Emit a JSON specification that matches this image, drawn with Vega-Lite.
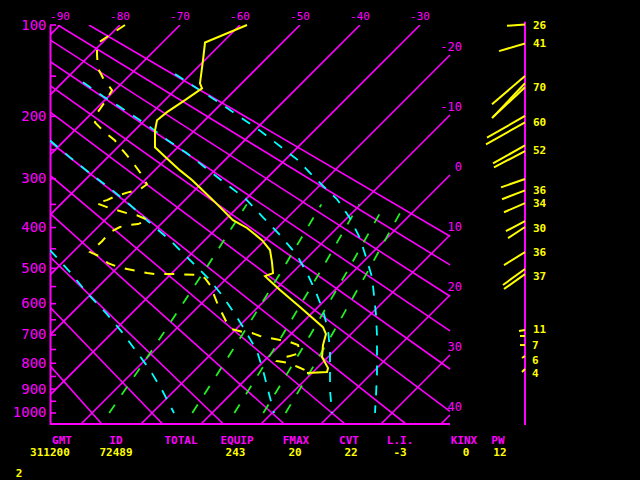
{
  "$schema": "https://vega.github.io/schema/vega-lite/v6.json",
  "width": 590,
  "height": 399,
  "autosize": "none",
  "padding": {"left": 50, "top": 25, "right": 0, "bottom": 56},
  "background": "#000000",
  "config": {
    "view": {"stroke": null},
    "text": {"font": "DejaVu Sans Mono"}
  },
  "datasets": {
    "grid": [
      {"id": "t-90", "i": 0, "x": -90, "p": 1048.7}, {"id": "t-90", "i": 1, "x": -23.5, "p": 100},
      {"id": "t-80", "i": 0, "x": -80, "p": 1048.7}, {"id": "t-80", "i": 1, "x": -13.5, "p": 100},
      {"id": "t-70", "i": 0, "x": -70, "p": 1048.7}, {"id": "t-70", "i": 1, "x": -3.5, "p": 100},
      {"id": "t-60", "i": 0, "x": -60, "p": 1048.7}, {"id": "t-60", "i": 1, "x": 6.5, "p": 100},
      {"id": "t-50", "i": 0, "x": -50, "p": 1048.7}, {"id": "t-50", "i": 1, "x": 16.5, "p": 100},
      {"id": "t-40", "i": 0, "x": -40, "p": 1048.7}, {"id": "t-40", "i": 1, "x": 26.5, "p": 100},
      {"id": "t-30", "i": 0, "x": -30, "p": 1048.7}, {"id": "t-30", "i": 1, "x": 36.5, "p": 100},
      {"id": "t-20", "i": 0, "x": -20, "p": 1048.7}, {"id": "t-20", "i": 1, "x": 41.5, "p": 127.6},
      {"id": "t-10", "i": 0, "x": -10, "p": 1048.7}, {"id": "t-10", "i": 1, "x": 41.5, "p": 198.3},
      {"id": "t0", "i": 0, "x": 0, "p": 1048.7}, {"id": "t0", "i": 1, "x": 41.5, "p": 293.3},
      {"id": "t10", "i": 0, "x": 10, "p": 1048.7}, {"id": "t10", "i": 1, "x": 41.5, "p": 417.1},
      {"id": "t20", "i": 0, "x": 20, "p": 1048.7}, {"id": "t20", "i": 1, "x": 41.5, "p": 574.3},
      {"id": "t30", "i": 0, "x": 30, "p": 1048.7}, {"id": "t30", "i": 1, "x": 41.5, "p": 770.0},
      {"id": "t40", "i": 0, "x": 40, "p": 1048.7}, {"id": "t40", "i": 1, "x": 41.5, "p": 1008.7},
      {"id": "th-20", "i": 0, "x": -16.53, "p": 1048.7}, {"id": "th-20", "i": 1, "x": -75.62, "p": 100},
      {"id": "th-10", "i": 0, "x": -6.40, "p": 1048.7}, {"id": "th-10", "i": 1, "x": -70.44, "p": 100},
      {"id": "th0", "i": 0, "x": 3.74, "p": 1048.7}, {"id": "th0", "i": 1, "x": -65.26, "p": 100},
      {"id": "th10", "i": 0, "x": 13.88, "p": 1048.7}, {"id": "th10", "i": 1, "x": -60.09, "p": 100},
      {"id": "th20", "i": 0, "x": 24.01, "p": 1048.7}, {"id": "th20", "i": 1, "x": -54.91, "p": 100},
      {"id": "th30", "i": 0, "x": 34.15, "p": 1048.7}, {"id": "th30", "i": 1, "x": -49.74, "p": 100},
      {"id": "th40", "i": 0, "x": 41.5, "p": 993.4}, {"id": "th40", "i": 1, "x": -44.56, "p": 100},
      {"id": "th50", "i": 0, "x": 41.5, "p": 821.5}, {"id": "th50", "i": 1, "x": -39.38, "p": 100},
      {"id": "th60", "i": 0, "x": 41.5, "p": 686.1}, {"id": "th60", "i": 1, "x": -34.21, "p": 100},
      {"id": "th70", "i": 0, "x": 41.5, "p": 578.0}, {"id": "th70", "i": 1, "x": -29.03, "p": 100},
      {"id": "th80", "i": 0, "x": 41.5, "p": 490.9}, {"id": "th80", "i": 1, "x": -23.86, "p": 100},
      {"id": "th90", "i": 0, "x": 41.5, "p": 420.0}, {"id": "th90", "i": 1, "x": -18.68, "p": 100}
    ],
    "ticks": [
      {"x": -25.1667, "x2": -24.1667, "p": 100}, {"x": -25.1667, "x2": -24.1667, "p": 150},
      {"x": -25.1667, "x2": -24.1667, "p": 200}, {"x": -25.1667, "x2": -24.1667, "p": 250},
      {"x": -25.1667, "x2": -24.1667, "p": 300}, {"x": -25.1667, "x2": -24.1667, "p": 350},
      {"x": -25.1667, "x2": -24.1667, "p": 400}, {"x": -25.1667, "x2": -24.1667, "p": 450},
      {"x": -25.1667, "x2": -24.1667, "p": 500}, {"x": -25.1667, "x2": -24.1667, "p": 550},
      {"x": -25.1667, "x2": -24.1667, "p": 600}, {"x": -25.1667, "x2": -24.1667, "p": 650},
      {"x": -25.1667, "x2": -24.1667, "p": 700}, {"x": -25.1667, "x2": -24.1667, "p": 750},
      {"x": -25.1667, "x2": -24.1667, "p": 800}, {"x": -25.1667, "x2": -24.1667, "p": 850},
      {"x": -25.1667, "x2": -24.1667, "p": 900}, {"x": -25.1667, "x2": -24.1667, "p": 950},
      {"x": -25.1667, "x2": -24.1667, "p": 1000}
    ],
    "base": [{"x": -25.1667, "x2": 41.5, "p": 1048.7}],
    "staff": [{"x": 54, "p": 97.3, "p2": 1053}],
    "mixing": [
      {"id": "w1", "i": 0, "x": -15.30, "p": 1000}, {"id": "w1", "i": 1, "x": -11.13, "p": 850},
      {"id": "w1", "i": 2, "x": -6.47, "p": 700}, {"id": "w1", "i": 3, "x": 0.84, "p": 500},
      {"id": "w1", "i": 4, "x": 7.62, "p": 350},
      {"id": "w3", "i": 0, "x": -1.45, "p": 1000}, {"id": "w3", "i": 1, "x": 2.47, "p": 850},
      {"id": "w3", "i": 2, "x": 6.86, "p": 700}, {"id": "w3", "i": 3, "x": 13.70, "p": 500},
      {"id": "w3", "i": 4, "x": 20.06, "p": 350},
      {"id": "w5", "i": 0, "x": 5.56, "p": 1000}, {"id": "w5", "i": 1, "x": 9.35, "p": 850},
      {"id": "w5", "i": 2, "x": 13.59, "p": 700}, {"id": "w5", "i": 3, "x": 20.19, "p": 500},
      {"id": "w5", "i": 4, "x": 26.33, "p": 350},
      {"id": "w7", "i": 0, "x": 10.38, "p": 1000}, {"id": "w7", "i": 1, "x": 14.09, "p": 850},
      {"id": "w7", "i": 2, "x": 18.22, "p": 700}, {"id": "w7", "i": 3, "x": 24.65, "p": 500},
      {"id": "w7", "i": 4, "x": 30.65, "p": 350},
      {"id": "w9", "i": 0, "x": 14.10, "p": 1000}, {"id": "w9", "i": 1, "x": 17.74, "p": 850},
      {"id": "w9", "i": 2, "x": 21.79, "p": 700}, {"id": "w9", "i": 3, "x": 28.08, "p": 500},
      {"id": "w9", "i": 4, "x": 33.97, "p": 350}
    ],
    "moist": [
      {"id": "c1", "i": 0, "x": -4.33, "p": 147.7}, {"id": "c1", "i": 1, "x": 3.17, "p": 182.6},
      {"id": "c1", "i": 2, "x": 9.83, "p": 220.5}, {"id": "c1", "i": 3, "x": 16.0, "p": 266.0},
      {"id": "c1", "i": 4, "x": 19.33, "p": 302.5}, {"id": "c1", "i": 5, "x": 22.67, "p": 339.5},
      {"id": "c1", "i": 6, "x": 24.83, "p": 379.3}, {"id": "c1", "i": 7, "x": 26.5, "p": 424.5},
      {"id": "c1", "i": 8, "x": 27.5, "p": 470.9}, {"id": "c1", "i": 9, "x": 28.5, "p": 523.6},
      {"id": "c1", "i": 10, "x": 28.83, "p": 574.6}, {"id": "c1", "i": 11, "x": 29.17, "p": 635.3},
      {"id": "c1", "i": 12, "x": 29.33, "p": 700}, {"id": "c1", "i": 13, "x": 29.33, "p": 769.9},
      {"id": "c1", "i": 14, "x": 29.33, "p": 844.3}, {"id": "c1", "i": 15, "x": 29.17, "p": 924.2},
      {"id": "c1", "i": 16, "x": 29.0, "p": 1000},
      {"id": "c2", "i": 0, "x": -19.67, "p": 156.9}, {"id": "c2", "i": 1, "x": -16.33, "p": 173.6},
      {"id": "c2", "i": 2, "x": -12.17, "p": 194.4}, {"id": "c2", "i": 3, "x": -8.83, "p": 213.0},
      {"id": "c2", "i": 4, "x": -5.5, "p": 235.5}, {"id": "c2", "i": 5, "x": -2.33, "p": 255.7},
      {"id": "c2", "i": 6, "x": 0.67, "p": 279.8}, {"id": "c2", "i": 7, "x": 4.0, "p": 308.4},
      {"id": "c2", "i": 8, "x": 7.33, "p": 337.6}, {"id": "c2", "i": 9, "x": 10.33, "p": 377.2},
      {"id": "c2", "i": 10, "x": 13.17, "p": 417.4}, {"id": "c2", "i": 11, "x": 16.0, "p": 465.8},
      {"id": "c2", "i": 12, "x": 17.83, "p": 518.1}, {"id": "c2", "i": 13, "x": 19.0, "p": 559.9},
      {"id": "c2", "i": 14, "x": 20.33, "p": 619.7}, {"id": "c2", "i": 15, "x": 21.17, "p": 683.7},
      {"id": "c2", "i": 16, "x": 21.5, "p": 751.8}, {"id": "c2", "i": 17, "x": 21.5, "p": 825.4},
      {"id": "c2", "i": 18, "x": 21.5, "p": 903.7}, {"id": "c2", "i": 19, "x": 21.83, "p": 1000},
      {"id": "c3", "i": 0, "x": -25.17, "p": 235.5}, {"id": "c3", "i": 1, "x": -21.83, "p": 262.6},
      {"id": "c3", "i": 2, "x": -18.5, "p": 290.2}, {"id": "c3", "i": 3, "x": -15.17, "p": 318.1},
      {"id": "c3", "i": 4, "x": -12.17, "p": 347.3}, {"id": "c3", "i": 5, "x": -8.83, "p": 385.8},
      {"id": "c3", "i": 6, "x": -5.17, "p": 429.2}, {"id": "c3", "i": 7, "x": -2.33, "p": 470.9},
      {"id": "c3", "i": 8, "x": 1.17, "p": 526.4}, {"id": "c3", "i": 9, "x": 3.5, "p": 574.6},
      {"id": "c3", "i": 10, "x": 5.67, "p": 632.2}, {"id": "c3", "i": 11, "x": 7.5, "p": 690.2},
      {"id": "c3", "i": 12, "x": 9.33, "p": 755.4}, {"id": "c3", "i": 13, "x": 10.33, "p": 825.4},
      {"id": "c3", "i": 14, "x": 11.17, "p": 903.7}, {"id": "c3", "i": 15, "x": 12.17, "p": 1000},
      {"id": "c4", "i": 0, "x": -25.17, "p": 453.1}, {"id": "c4", "i": 1, "x": -21.83, "p": 509.9},
      {"id": "c4", "i": 2, "x": -18.83, "p": 571.6}, {"id": "c4", "i": 3, "x": -15.67, "p": 632.2},
      {"id": "c4", "i": 4, "x": -13.17, "p": 690.2}, {"id": "c4", "i": 5, "x": -10.83, "p": 755.4},
      {"id": "c4", "i": 6, "x": -8.5, "p": 825.4}, {"id": "c4", "i": 7, "x": -6.5, "p": 903.7},
      {"id": "c4", "i": 8, "x": -4.5, "p": 1000}
    ],
    "temp": [
      {"i": 1, "x": 7.67, "p": 100}, {"i": 2, "x": 0.67, "p": 115.5}, {"i": 3, "x": 0.33, "p": 133.0},
      {"i": 4, "x": -0.17, "p": 158.1}, {"i": 5, "x": 0.17, "p": 164.0}, {"i": 6, "x": -2.67, "p": 178.7},
      {"i": 7, "x": -5.67, "p": 194.4}, {"i": 8, "x": -7.33, "p": 205.5}, {"i": 9, "x": -7.67, "p": 220.5},
      {"i": 10, "x": -7.67, "p": 246.0}, {"i": 11, "x": -5.67, "p": 264.3}, {"i": 12, "x": -3.5, "p": 285.0},
      {"i": 13, "x": -1.5, "p": 302.5}, {"i": 14, "x": 2.0, "p": 341.4}, {"i": 15, "x": 5.33, "p": 383.6},
      {"i": 16, "x": 7.67, "p": 400.9}, {"i": 17, "x": 10.17, "p": 429.2}, {"i": 18, "x": 11.5, "p": 453.1},
      {"i": 19, "x": 11.83, "p": 483.7}, {"i": 20, "x": 12.0, "p": 512.6}, {"i": 21, "x": 10.67, "p": 520.9},
      {"i": 22, "x": 11.17, "p": 529.1}, {"i": 23, "x": 13.17, "p": 559.9}, {"i": 24, "x": 16.5, "p": 610.3},
      {"i": 25, "x": 20.33, "p": 673.9}, {"i": 26, "x": 20.83, "p": 696.7}, {"i": 27, "x": 20.33, "p": 734.5},
      {"i": 28, "x": 20.17, "p": 777.2}, {"i": 29, "x": 21.17, "p": 817.8}, {"i": 30, "x": 21.0, "p": 833.0},
      {"i": 31, "x": 17.67, "p": 836.7}
    ],
    "dewp": [
      {"i": 1, "x": -12.67, "p": 100}, {"i": 2, "x": -17.33, "p": 116.4}, {"i": 3, "x": -17.33, "p": 127.7},
      {"i": 4, "x": -17.17, "p": 141.4}, {"i": 5, "x": -16.33, "p": 152.1}, {"i": 6, "x": -14.83, "p": 166.4},
      {"i": 7, "x": -16.17, "p": 182.6}, {"i": 8, "x": -17.33, "p": 195.7}, {"i": 9, "x": -17.67, "p": 208.5},
      {"i": 10, "x": -16.33, "p": 220.5}, {"i": 11, "x": -14.33, "p": 235.5}, {"i": 12, "x": -13.5, "p": 246.0},
      {"i": 13, "x": -12.33, "p": 259.1}, {"i": 14, "x": -11.0, "p": 276.4}, {"i": 15, "x": -9.83, "p": 293.6},
      {"i": 16, "x": -9.0, "p": 310.3}, {"i": 17, "x": -10.17, "p": 320.0}, {"i": 18, "x": -12.17, "p": 325.9},
      {"i": 19, "x": -14.33, "p": 333.7}, {"i": 20, "x": -15.67, "p": 341.4}, {"i": 21, "x": -17.5, "p": 347.3},
      {"i": 22, "x": -15.67, "p": 355.6}, {"i": 23, "x": -14.0, "p": 362.1}, {"i": 24, "x": -12.33, "p": 368.5},
      {"i": 25, "x": -10.67, "p": 372.8}, {"i": 26, "x": -8.83, "p": 383.6}, {"i": 27, "x": -10.5, "p": 392.2},
      {"i": 28, "x": -12.17, "p": 394.4}, {"i": 29, "x": -13.5, "p": 398.7}, {"i": 30, "x": -15.17, "p": 410.4},
      {"i": 31, "x": -16.5, "p": 431.6}, {"i": 32, "x": -18.5, "p": 458.2}, {"i": 33, "x": -17.0, "p": 468.4},
      {"i": 34, "x": -15.5, "p": 486.2}, {"i": 35, "x": -13.83, "p": 496.4}, {"i": 36, "x": -12.33, "p": 501.6},
      {"i": 37, "x": -10.67, "p": 507.1}, {"i": 38, "x": -9.0, "p": 512.6}, {"i": 39, "x": -7.67, "p": 515.4},
      {"i": 40, "x": -4.33, "p": 515.4}, {"i": 41, "x": -0.17, "p": 518.1}, {"i": 42, "x": 0.67, "p": 526.4},
      {"i": 43, "x": 1.5, "p": 545.6}, {"i": 44, "x": 2.83, "p": 604.1}, {"i": 45, "x": 4.5, "p": 667.3},
      {"i": 46, "x": 5.17, "p": 680.4}, {"i": 47, "x": 7.0, "p": 690.2}, {"i": 48, "x": 8.5, "p": 693.5},
      {"i": 49, "x": 9.83, "p": 703.4}, {"i": 50, "x": 11.5, "p": 710.3}, {"i": 51, "x": 13.17, "p": 717.2},
      {"i": 52, "x": 14.83, "p": 724.1}, {"i": 53, "x": 16.17, "p": 734.5}, {"i": 54, "x": 16.5, "p": 762.7},
      {"i": 55, "x": 14.83, "p": 773.5}, {"i": 56, "x": 13.17, "p": 780.8}, {"i": 57, "x": 12.67, "p": 791.7},
      {"i": 58, "x": 14.5, "p": 798.9}, {"i": 59, "x": 16.17, "p": 814.0}, {"i": 60, "x": 17.67, "p": 829.2},
      {"i": 61, "x": 18.67, "p": 836.7}
    ],
    "barbs": [
      {"id": "b1", "i": 0, "x": 54, "p": 99.5}, {"id": "b1", "i": 1, "x": 51.0, "p": 100.7},
      {"id": "b2", "i": 0, "x": 54, "p": 116.4}, {"id": "b2", "i": 1, "x": 49.67, "p": 123.7},
      {"id": "b3", "i": 0, "x": 54, "p": 149.8}, {"id": "b3", "i": 1, "x": 48.5, "p": 183.9},
      {"id": "b4", "i": 0, "x": 54, "p": 158.1}, {"id": "b4", "i": 1, "x": 48.5, "p": 202.5},
      {"id": "b5", "i": 0, "x": 54, "p": 162.9}, {"id": "b5", "i": 1, "x": 48.67, "p": 201.0},
      {"id": "b6", "i": 0, "x": 54, "p": 199.6}, {"id": "b6", "i": 1, "x": 47.67, "p": 231.0},
      {"id": "b7", "i": 0, "x": 54, "p": 208.5}, {"id": "b7", "i": 1, "x": 47.5, "p": 241.5},
      {"id": "b8", "i": 0, "x": 54, "p": 243.0}, {"id": "b8", "i": 1, "x": 48.67, "p": 272.9},
      {"id": "b9", "i": 0, "x": 54, "p": 252.2}, {"id": "b9", "i": 1, "x": 48.83, "p": 279.8},
      {"id": "b10", "i": 0, "x": 54, "p": 300.6}, {"id": "b10", "i": 1, "x": 50.0, "p": 316.2},
      {"id": "b11", "i": 0, "x": 54, "p": 322.0}, {"id": "b11", "i": 1, "x": 50.17, "p": 339.5},
      {"id": "b12", "i": 0, "x": 54, "p": 347.3}, {"id": "b12", "i": 1, "x": 50.5, "p": 366.4},
      {"id": "b13", "i": 0, "x": 54, "p": 385.8}, {"id": "b13", "i": 1, "x": 50.83, "p": 408.0},
      {"id": "b14", "i": 0, "x": 54, "p": 398.7}, {"id": "b14", "i": 1, "x": 51.17, "p": 424.5},
      {"id": "b15", "i": 0, "x": 54, "p": 458.2}, {"id": "b15", "i": 1, "x": 50.5, "p": 491.3},
      {"id": "b16", "i": 0, "x": 54, "p": 501.6}, {"id": "b16", "i": 1, "x": 50.33, "p": 545.6},
      {"id": "b17", "i": 0, "x": 54, "p": 515.4}, {"id": "b17", "i": 1, "x": 50.5, "p": 557.0},
      {"id": "b18", "i": 0, "x": 54, "p": 683.7}, {"id": "b18", "i": 1, "x": 53.0, "p": 687.0},
      {"id": "b19", "i": 0, "x": 54, "p": 703.4}, {"id": "b19", "i": 1, "x": 53.17, "p": 703.4},
      {"id": "b20", "i": 0, "x": 54, "p": 734.5}, {"id": "b20", "i": 1, "x": 53.17, "p": 734.5},
      {"id": "b21", "i": 0, "x": 54, "p": 773.5}, {"id": "b21", "i": 1, "x": 53.5, "p": 780.8},
      {"id": "b22", "i": 0, "x": 54, "p": 821.6}, {"id": "b22", "i": 1, "x": 53.5, "p": 833.0}
    ],
    "isoTop": [
      {"t": "-90", "x": -23.5, "p": 93.8}, {"t": "-80", "x": -13.5, "p": 93.8},
      {"t": "-70", "x": -3.5, "p": 93.8}, {"t": "-60", "x": 6.5, "p": 93.8},
      {"t": "-50", "x": 16.5, "p": 93.8}, {"t": "-40", "x": 26.5, "p": 93.8},
      {"t": "-30", "x": 36.5, "p": 93.8}
    ],
    "isoRight": [
      {"t": "-20", "x": 43.5, "p": 120.1}, {"t": "-10", "x": 43.5, "p": 187.8},
      {"t": "0", "x": 43.5, "p": 279.8}, {"t": "10", "x": 43.5, "p": 398.7},
      {"t": "20", "x": 43.5, "p": 551.2}, {"t": "30", "x": 43.5, "p": 741.4},
      {"t": "40", "x": 43.5, "p": 974.4}
    ],
    "windLab": [
      {"t": "26", "x": 55.33, "p": 100.9}, {"t": "41", "x": 55.33, "p": 117.3},
      {"t": "70", "x": 55.33, "p": 164.0}, {"t": "60", "x": 55.33, "p": 210.0},
      {"t": "52", "x": 55.33, "p": 252.2}, {"t": "36", "x": 55.33, "p": 323.9},
      {"t": "34", "x": 55.33, "p": 349.2}, {"t": "30", "x": 55.33, "p": 403.3},
      {"t": "36", "x": 55.33, "p": 460.7}, {"t": "37", "x": 55.33, "p": 523.6},
      {"t": "11", "x": 55.33, "p": 683.7}, {"t": "7", "x": 55.17, "p": 737.9},
      {"t": "6", "x": 55.17, "p": 791.7}, {"t": "4", "x": 55.17, "p": 840.5}
    ],
    "tableHead": [
      {"t": "GMT", "x": -23.17, "p": 1127.1}, {"t": "ID", "x": -14.17, "p": 1127.1},
      {"t": "TOTAL", "x": -3.33, "p": 1127.1}, {"t": "EQUIP", "x": 6.0, "p": 1127.1},
      {"t": "FMAX", "x": 15.83, "p": 1127.1}, {"t": "CVT", "x": 24.67, "p": 1127.1},
      {"t": "L.I.", "x": 33.17, "p": 1127.1}, {"t": "KINX", "x": 43.83, "p": 1127.1},
      {"t": "PW", "x": 49.5, "p": 1127.1}
    ],
    "tableVal": [
      {"t": "311200", "x": -25.17, "p": 1185.0}, {"t": "72489", "x": -14.17, "p": 1185.0},
      {"t": "243", "x": 5.75, "p": 1185.0}, {"t": "20", "x": 15.67, "p": 1185.0},
      {"t": "22", "x": 25.0, "p": 1185.0}, {"t": "-3", "x": 33.17, "p": 1185.0},
      {"t": "0", "x": 44.17, "p": 1185.0}, {"t": "12", "x": 49.83, "p": 1185.0},
      {"t": "2", "x": -30.33, "p": 1291.2}
    ]
  },
  "encoding": {
    "x": {
      "field": "x",
      "type": "quantitative",
      "scale": {"domain": [-25.1667, 73.1667], "nice": false, "zero": false},
      "axis": null
    },
    "y": {
      "field": "p",
      "type": "quantitative",
      "scale": {"type": "pow", "exponent": 0.286, "domain": [100, 1048.7], "reverse": true, "nice": false, "zero": false},
      "axis": {
        "values": [100, 200, 300, 400, 500, 600, 700, 800, 900, 1000],
        "format": "d",
        "title": null,
        "grid": false,
        "ticks": false,
        "labelFlush": false,
        "labelOverlap": false,
        "labelPadding": 4,
        "labelColor": "#ff00ff",
        "labelFont": "DejaVu Sans Mono",
        "labelFontSize": 14,
        "domainColor": "#ff00ff",
        "domainWidth": 2
      }
    }
  },
  "layer": [
    {
      "data": {"name": "grid"},
      "mark": {"type": "line", "color": "#ff00ff", "strokeWidth": 1.6, "clip": true},
      "encoding": {"detail": {"field": "id"}, "order": {"field": "i", "type": "quantitative"}}
    },
    {
      "data": {"name": "ticks"},
      "mark": {"type": "rule", "color": "#ff00ff", "strokeWidth": 1.6},
      "encoding": {"x2": {"field": "x2"}}
    },
    {
      "data": {"name": "base"},
      "mark": {"type": "rule", "color": "#ff00ff", "strokeWidth": 2},
      "encoding": {"x2": {"field": "x2"}}
    },
    {
      "data": {"name": "staff"},
      "mark": {"type": "rule", "color": "#ff00ff", "strokeWidth": 2},
      "encoding": {"y2": {"field": "p2"}}
    },
    {
      "data": {"name": "mixing"},
      "mark": {"type": "line", "color": "#22ee22", "strokeWidth": 1.8, "strokeDash": [10, 12]},
      "encoding": {"detail": {"field": "id"}, "order": {"field": "i", "type": "quantitative"}}
    },
    {
      "data": {"name": "moist"},
      "mark": {"type": "line", "color": "#00ffff", "strokeWidth": 1.8, "strokeDash": [10, 10], "clip": true},
      "encoding": {"detail": {"field": "id"}, "order": {"field": "i", "type": "quantitative"}}
    },
    {
      "data": {"name": "barbs"},
      "mark": {"type": "line", "color": "#ffff00", "strokeWidth": 2},
      "encoding": {"detail": {"field": "id"}, "order": {"field": "i", "type": "quantitative"}}
    },
    {
      "data": {"name": "temp"},
      "mark": {"type": "line", "color": "#ffff00", "strokeWidth": 2},
      "encoding": {"order": {"field": "i", "type": "quantitative"}}
    },
    {
      "data": {"name": "dewp"},
      "mark": {"type": "line", "color": "#ffff00", "strokeWidth": 2, "strokeDash": [10, 10]},
      "encoding": {"order": {"field": "i", "type": "quantitative"}}
    },
    {
      "data": {"name": "isoTop"},
      "mark": {"type": "text", "color": "#ff00ff", "fontSize": 11, "align": "center", "baseline": "middle"},
      "encoding": {"text": {"field": "t"}}
    },
    {
      "data": {"name": "isoRight"},
      "mark": {"type": "text", "color": "#ff00ff", "fontSize": 12, "align": "right", "baseline": "middle"},
      "encoding": {"text": {"field": "t"}}
    },
    {
      "data": {"name": "windLab"},
      "mark": {"type": "text", "color": "#ffff00", "fontSize": 11, "fontWeight": "bold", "align": "left", "baseline": "middle"},
      "encoding": {"text": {"field": "t"}}
    },
    {
      "data": {"name": "tableHead"},
      "mark": {"type": "text", "color": "#ff00ff", "fontSize": 11, "fontWeight": "bold", "align": "center", "baseline": "middle"},
      "encoding": {"text": {"field": "t"}}
    },
    {
      "data": {"name": "tableVal"},
      "mark": {"type": "text", "color": "#ffff00", "fontSize": 11, "fontWeight": "bold", "align": "center", "baseline": "middle"},
      "encoding": {"text": {"field": "t"}}
    }
  ]
}
